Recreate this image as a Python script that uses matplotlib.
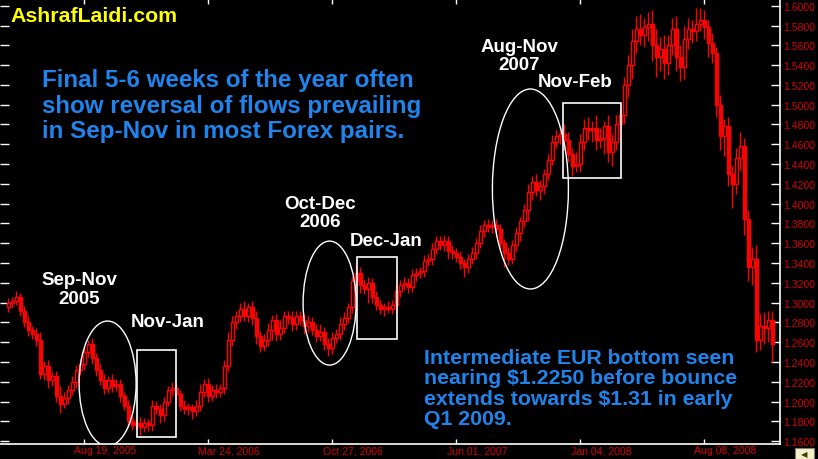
import numpy as np
import matplotlib
matplotlib.use("Agg")
import matplotlib.pyplot as plt
from matplotlib.patches import Ellipse, Rectangle
from matplotlib.transforms import ScaledTranslation

# weekly EUR/USD closes (mid-2005 .. late 2008)
closes = [
    1.300, 1.302, 1.306, 1.292, 1.280, 1.272, 1.268, 1.262, 1.228, 1.236, 1.222, 1.226,
    1.206, 1.198, 1.204, 1.212, 1.220, 1.232, 1.238, 1.250, 1.258, 1.244, 1.232, 1.222,
    1.214, 1.222, 1.216, 1.218, 1.206, 1.196, 1.180, 1.176, 1.178, 1.174, 1.178, 1.176,
    1.196, 1.192, 1.186, 1.200, 1.212, 1.214, 1.208, 1.196, 1.192, 1.194, 1.190, 1.196,
    1.210, 1.218, 1.206, 1.212, 1.210, 1.214, 1.236, 1.262, 1.280, 1.286, 1.294, 1.286,
    1.296, 1.284, 1.266, 1.256, 1.262, 1.272, 1.282, 1.268, 1.274, 1.286, 1.284, 1.278,
    1.286, 1.282, 1.276, 1.280, 1.272, 1.266, 1.270, 1.258, 1.254, 1.264, 1.268, 1.278,
    1.284, 1.296, 1.322, 1.330, 1.318, 1.314, 1.320, 1.306, 1.298, 1.294, 1.296, 1.294,
    1.298, 1.312, 1.318, 1.320, 1.316, 1.328, 1.330, 1.332, 1.342, 1.344, 1.354, 1.362,
    1.358, 1.362, 1.352, 1.350, 1.346, 1.340, 1.336, 1.344, 1.350, 1.360, 1.372, 1.378,
    1.376, 1.378, 1.374, 1.360, 1.350, 1.344, 1.358, 1.370, 1.382, 1.394, 1.412, 1.422,
    1.414, 1.418, 1.430, 1.444, 1.462, 1.468, 1.470, 1.464, 1.450, 1.438, 1.440, 1.462,
    1.476, 1.474, 1.476, 1.464, 1.466, 1.478, 1.452, 1.462, 1.480, 1.490, 1.520, 1.540,
    1.564, 1.576, 1.570, 1.578, 1.582, 1.560, 1.548, 1.556, 1.542, 1.560, 1.576, 1.548,
    1.538, 1.566, 1.576, 1.574, 1.582, 1.586, 1.578, 1.562, 1.552, 1.500, 1.468, 1.478,
    1.430, 1.420, 1.446, 1.458, 1.384, 1.336, 1.344, 1.262, 1.276, 1.274, 1.282, 1.258,
]
first_open = 1.296

# wick lengths above / below the body, in 0.001
wick_up = [
    5, 4, 6, 4, 5, 6, 4, 6, 8, 5, 6, 4,
    5, 10, 6, 5, 6, 5, 6, 5, 4, 6, 5, 6,
    6, 4, 6, 5, 5, 4, 6, 5, 4, 6, 5, 4,
    6, 5, 6, 5, 4, 6, 5, 4, 6, 5, 4, 6,
    8, 5, 6, 5, 6, 4, 6, 8, 6, 5, 6, 8,
    4, 6, 8, 5, 6, 7, 5, 6, 8, 5, 6, 7,
    6, 5, 6, 7, 5, 6, 8, 5, 6, 6, 5, 7,
    6, 4, 5, 8, 6, 5, 6, 5, 6, 5, 4, 6,
    5, 6, 5, 6, 5, 6, 5, 4, 6, 5, 6, 5,
    5, 6, 5, 6, 5, 6, 4, 5, 6, 5, 6, 5,
    6, 5, 6, 5, 4, 6, 5, 6, 5, 6, 8, 6,
    8, 6, 5, 6, 7, 6, 8, 10, 8, 6, 12, 8,
    10, 12, 8, 14, 10, 6, 12, 8, 10, 6, 8, 10,
    12, 14, 16, 10, 12, 14, 16, 12, 14, 10, 12, 14,
    12, 14, 12, 10, 16, 12, 10, 8, 10, 6, 10, 8,
    10, 8, 10, 14, 8, 10, 12, 14, 12, 14, 10, 10,
]
wick_dn = [
    6, 5, 4, 6, 5, 6, 5, 6, 5, 6, 8, 6,
    6, 10, 5, 6, 5, 6, 5, 6, 5, 6, 6, 5,
    6, 5, 6, 5, 6, 5, 6, 5, 4, 8, 5, 6,
    6, 5, 8, 6, 5, 6, 5, 6, 5, 6, 8, 5,
    6, 5, 6, 5, 6, 5, 6, 5, 6, 7, 6, 5,
    6, 7, 8, 6, 5, 6, 10, 7, 6, 5, 6, 7,
    6, 5, 8, 6, 5, 6, 5, 6, 8, 6, 5, 6,
    6, 5, 7, 6, 8, 5, 14, 6, 5, 6, 8, 5,
    6, 5, 6, 5, 6, 5, 6, 5, 6, 5, 6, 5,
    5, 6, 8, 6, 5, 6, 10, 6, 5, 6, 5, 6,
    5, 6, 8, 6, 14, 6, 5, 6, 8, 6, 12, 8,
    6, 10, 8, 6, 5, 6, 8, 10, 8, 10, 6, 8,
    8, 10, 12, 10, 8, 16, 10, 14, 8, 6, 10, 12,
    14, 12, 10, 12, 14, 16, 20, 14, 16, 12, 10, 14,
    14, 12, 10, 12, 10, 8, 12, 14, 10, 12, 14, 20,
    12, 24, 10, 12, 16, 14, 18, 12, 10, 16, 14, 18,
]

tick_weeks = [19, 50, 81, 112, 143, 174]
tick_labels = ["Aug 19, 2005", "Mar 24, 2006", "Oct 27, 2006",
               "Jun 01, 2007", "Jan 04, 2008", "Aug 08, 2008"]

RED = "#ff0000"
BLUE = "#1f85ec"
FONT = "Liberation Sans"

W, H = 818, 460
fig = plt.figure(figsize=(W / 100, H / 100), dpi=100, facecolor="black")
ax = fig.add_axes([0, 15 / H, 780 / W, 445 / H], facecolor="black")

c = np.array(closes)
o = np.concatenate([[first_open], c[:-1]])
hi = np.maximum(o, c) + np.array(wick_up) / 1000
lo = np.minimum(o, c) - np.array(wick_dn) / 1000
x = np.arange(len(c))

ax.vlines(x, lo, hi, color=RED, linewidth=1, zorder=2)
up = c >= o
body = np.maximum(np.abs(c - o), 0.0012)
ax.bar(x[up], body[up], bottom=np.minimum(o, c)[up], width=0.75,
       facecolor="black", edgecolor=RED, linewidth=1.0, zorder=3)
ax.bar(x[~up], body[~up], bottom=np.minimum(o, c)[~up], width=0.75,
       facecolor=RED, edgecolor=RED, linewidth=1.0, zorder=3)

ax.set_xlim(-2, 193)
ax.set_ylim(1.1571, 1.6068)

for s in ["left", "top"]:
    ax.spines[s].set_visible(False)
for s in ["bottom", "right"]:
    ax.spines[s].set_color("white")
    ax.spines[s].set_linewidth(1.2)

ax.set_yticks(np.arange(1.16, 1.6001, 0.02))
ax.yaxis.set_major_formatter(matplotlib.ticker.FormatStrFormatter("%.4f"))
ax.tick_params(axis="y", left=True, right=True, labelleft=False, labelright=True,
               direction="in", length=6.5, width=1, color="white",
               labelcolor="#d40000", labelsize=7.6, pad=2)
ax.set_xticks(tick_weeks)
ax.set_xticklabels(tick_labels)
ax.tick_params(axis="x", top=True, bottom=True, direction="in", length=3.5,
               width=1, color="white", labelcolor="#d40000", labelsize=7.6, pad=1)
for lab in ax.get_xticklabels() + ax.get_yticklabels():
    lab.set_family(FONT)
for lab in ax.get_xticklabels():
    lab.set_transform(lab.get_transform() + ScaledTranslation(0.21, 0, fig.dpi_scale_trans))

# highlighted periods
for cx, cy, w, h in [(24.9, 1.2182, 14.25, 0.1263),
                     (80.4, 1.2995, 13.25, 0.1253),
                     (130.6, 1.4148, 19.0, 0.2021)]:
    ax.add_patch(Ellipse((cx, cy), w, h, fill=False, edgecolor="white",
                         linewidth=1, zorder=4))
for x0, x1, y0, y1 in [(32.25, 42.0, 1.1642, 1.2521),
                       (87.25, 97.25, 1.2632, 1.3460),
                       (138.75, 153.25, 1.4259, 1.5017)]:
    ax.add_patch(Rectangle((x0, y0), x1 - x0, y1 - y0, fill=False,
                           edgecolor="white", linewidth=1.2, zorder=4))


def put(px, py, s, **kw):
    fig.text(px / W, 1 - py / H, s, family=FONT, weight="bold", **kw)


put(10, 17, "AshrafLaidi.com", color="#ffff00", fontsize=15.3, va="center")

put(42, 106, "Final 5-6 weeks of the year often\nshow reversal of flows prevailing\n"
    "in Sep-Nov in most Forex pairs.", color=BLUE, fontsize=17.4,
    va="center", linespacing=1.16)
put(424, 389, "Intermediate EUR bottom seen\nnearing $1.2250 before bounce\n"
    "extends towards $1.31 in early\nQ1 2009.", color=BLUE, fontsize=15.3,
    va="center", linespacing=1.11)

for px, py, s in [(79, 290, "Sep-Nov\n2005"), (167.5, 322.5, "Nov-Jan"),
                  (320, 213.5, "Oct-Dec\n2006"), (386, 241.5, "Dec-Jan"),
                  (519, 56.5, "Aug-Nov\n2007"), (575.5, 83, "Nov-Feb")]:
    put(px, py, s, color="white", fontsize=13.5, ha="center", va="center",
        linespacing=1.1)

# scroll button at the bottom right corner
fig.patches.append(Rectangle((795 / W, 0), 19 / W, 11 / H, transform=fig.transFigure,
                             facecolor="#f4f0c8", edgecolor="#808080", linewidth=0.8))
fig.text(804.5 / W, 5.5 / H, "\u25c0", color="#404000", fontsize=6,
         ha="center", va="center")

fig.savefig("out.png", dpi=100, facecolor="black")
